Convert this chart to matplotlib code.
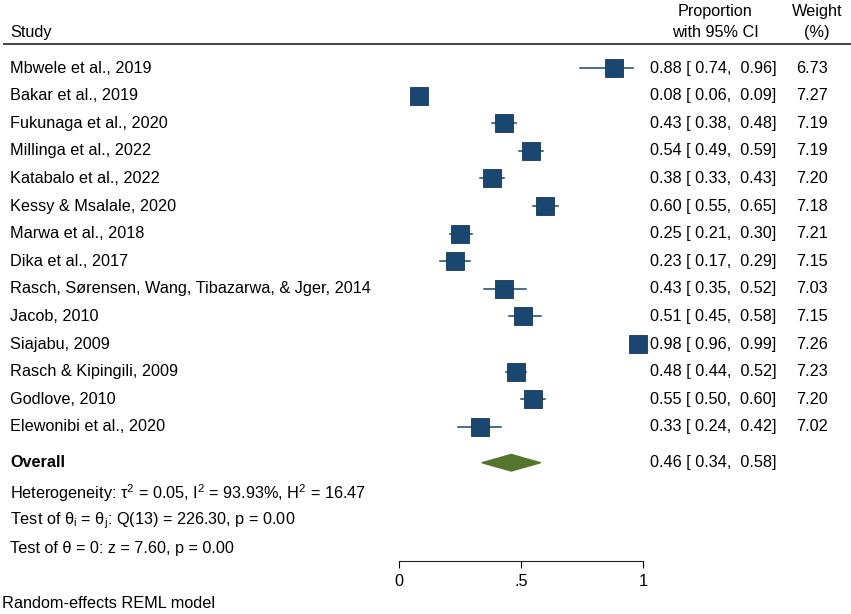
import matplotlib
matplotlib.use("Agg")
import matplotlib.pyplot as plt
from matplotlib import transforms

plt.rcParams['font.family'] = ['Liberation Sans', 'DejaVu Sans']
plt.rcParams['mathtext.fontset'] = 'custom'
plt.rcParams['mathtext.rm'] = 'Liberation Sans'
plt.rcParams['mathtext.it'] = 'Liberation Sans:italic'

studies = ["Mbwele et al., 2019", "Bakar et al., 2019", "Fukunaga et al., 2020",
           "Millinga et al., 2022", "Katabalo et al., 2022", "Kessy & Msalale, 2020",
           "Marwa et al., 2018", "Dika et al., 2017",
           "Rasch, Sørensen, Wang, Tibazarwa, & Jger, 2014", "Jacob, 2010",
           "Siajabu, 2009", "Rasch & Kipingili, 2009", "Godlove, 2010",
           "Elewonibi et al., 2020"]
prop = [0.88, 0.08, 0.43, 0.54, 0.38, 0.60, 0.25, 0.23, 0.43, 0.51, 0.98, 0.48, 0.55, 0.33]
lo = [0.74, 0.06, 0.38, 0.49, 0.33, 0.55, 0.21, 0.17, 0.35, 0.45, 0.96, 0.44, 0.50, 0.24]
hi = [0.96, 0.09, 0.48, 0.59, 0.43, 0.65, 0.30, 0.29, 0.52, 0.58, 0.99, 0.52, 0.60, 0.42]
weight = [6.73, 7.27, 7.19, 7.19, 7.20, 7.18, 7.21, 7.15, 7.03, 7.15, 7.26, 7.23, 7.20, 7.02]
overall = (0.46, 0.34, 0.58)
stats = [r"Heterogeneity: τ$^\mathregular{2}$ = 0.05, I$^\mathregular{2}$ = 93.93%, H$^\mathregular{2}$ = 16.47",
         r"Test of θ$_\mathregular{i}$ = θ$_\mathregular{j}$: Q(13) = 226.30, p = 0.00",
         r"Test of θ = 0: z = 7.60, p = 0.00"]

navy = '#1a476f'
green = '#55752f'
W, H = 851, 614

fig = plt.figure(figsize=(8.51, 6.14), dpi=100)
# axis: x 0..1 from px 399 to 643, rows from header line (44) to axis line (561)
ax = fig.add_axes([399 / W, (H - 561) / H, 244 / W, 517 / H])
ax.set_xlim(0, 1)
ax.set_ylim(17.86, -0.87)

tr = transforms.blended_transform_factory(fig.transFigure, ax.transData)
fs = 11.7

rows = list(range(len(studies)))
for i in rows:
    ax.plot([lo[i], hi[i]], [i, i], color=navy, lw=1.1, zorder=2, clip_on=False)
    ax.plot(prop[i], i, marker='s', ms=13 * (weight[i] / 7.2) ** 0.5,
            mfc=navy, mec='#14385a', mew=0.6, zorder=3, clip_on=False)
    ax.text(10 / W, i, studies[i], transform=tr, fontsize=fs, va='center')
    ax.text(650 / W, i, f"{prop[i]:.2f} [ {lo[i]:.2f},  {hi[i]:.2f}]",
            transform=tr, fontsize=fs, va='center')
    ax.text(828 / W, i, f"{weight[i]:.2f}", transform=tr, fontsize=fs,
            va='center', ha='right')

yo = 14.3
m, l, h = overall
ax.fill([l, m, h, m], [yo, yo - 0.3, yo, yo + 0.3], color=green, zorder=3)
ax.text(10 / W, yo, "Overall", transform=tr, fontsize=fs, va='center', weight='bold')
ax.text(650 / W, yo, f"{m:.2f} [ {l:.2f},  {h:.2f}]", transform=tr,
        fontsize=fs, va='center')

for k, s in enumerate(stats):
    ax.text(10 / W, 15.4 + k, s, transform=tr, fontsize=fs, va='center')

# header
ax.text(10 / W, -1.27, "Study", transform=tr, fontsize=fs, va='center')
ax.text(715 / W, -2.03, "Proportion", transform=tr, fontsize=fs, va='center', ha='center')
ax.text(715 / W, -1.27, "with 95% CI", transform=tr, fontsize=fs, va='center', ha='center')
ax.text(817 / W, -2.03, "Weight", transform=tr, fontsize=fs, va='center', ha='center')
ax.text(817 / W, -1.27, "(%)", transform=tr, fontsize=fs, va='center', ha='center')
ax.plot([4 / W, 1], [-0.87, -0.87], transform=tr, color='#444444', lw=1.4, clip_on=False)

for sp in ['top', 'left', 'right']:
    ax.spines[sp].set_visible(False)
ax.spines['bottom'].set_color('#222222')
ax.spines['bottom'].set_linewidth(0.8)
ax.set_yticks([])
ax.set_xticks([0, 0.5, 1])
ax.set_xticklabels(["0", ".5", "1"])
ax.tick_params(axis='x', direction='out', length=5, width=0.8, labelsize=fs, pad=4)
ax.patch.set_alpha(0)

fig.text(2 / W, 1 - 604 / H, "Random-effects REML model", fontsize=fs, va='center')

fig.savefig("out.png", dpi=100)
